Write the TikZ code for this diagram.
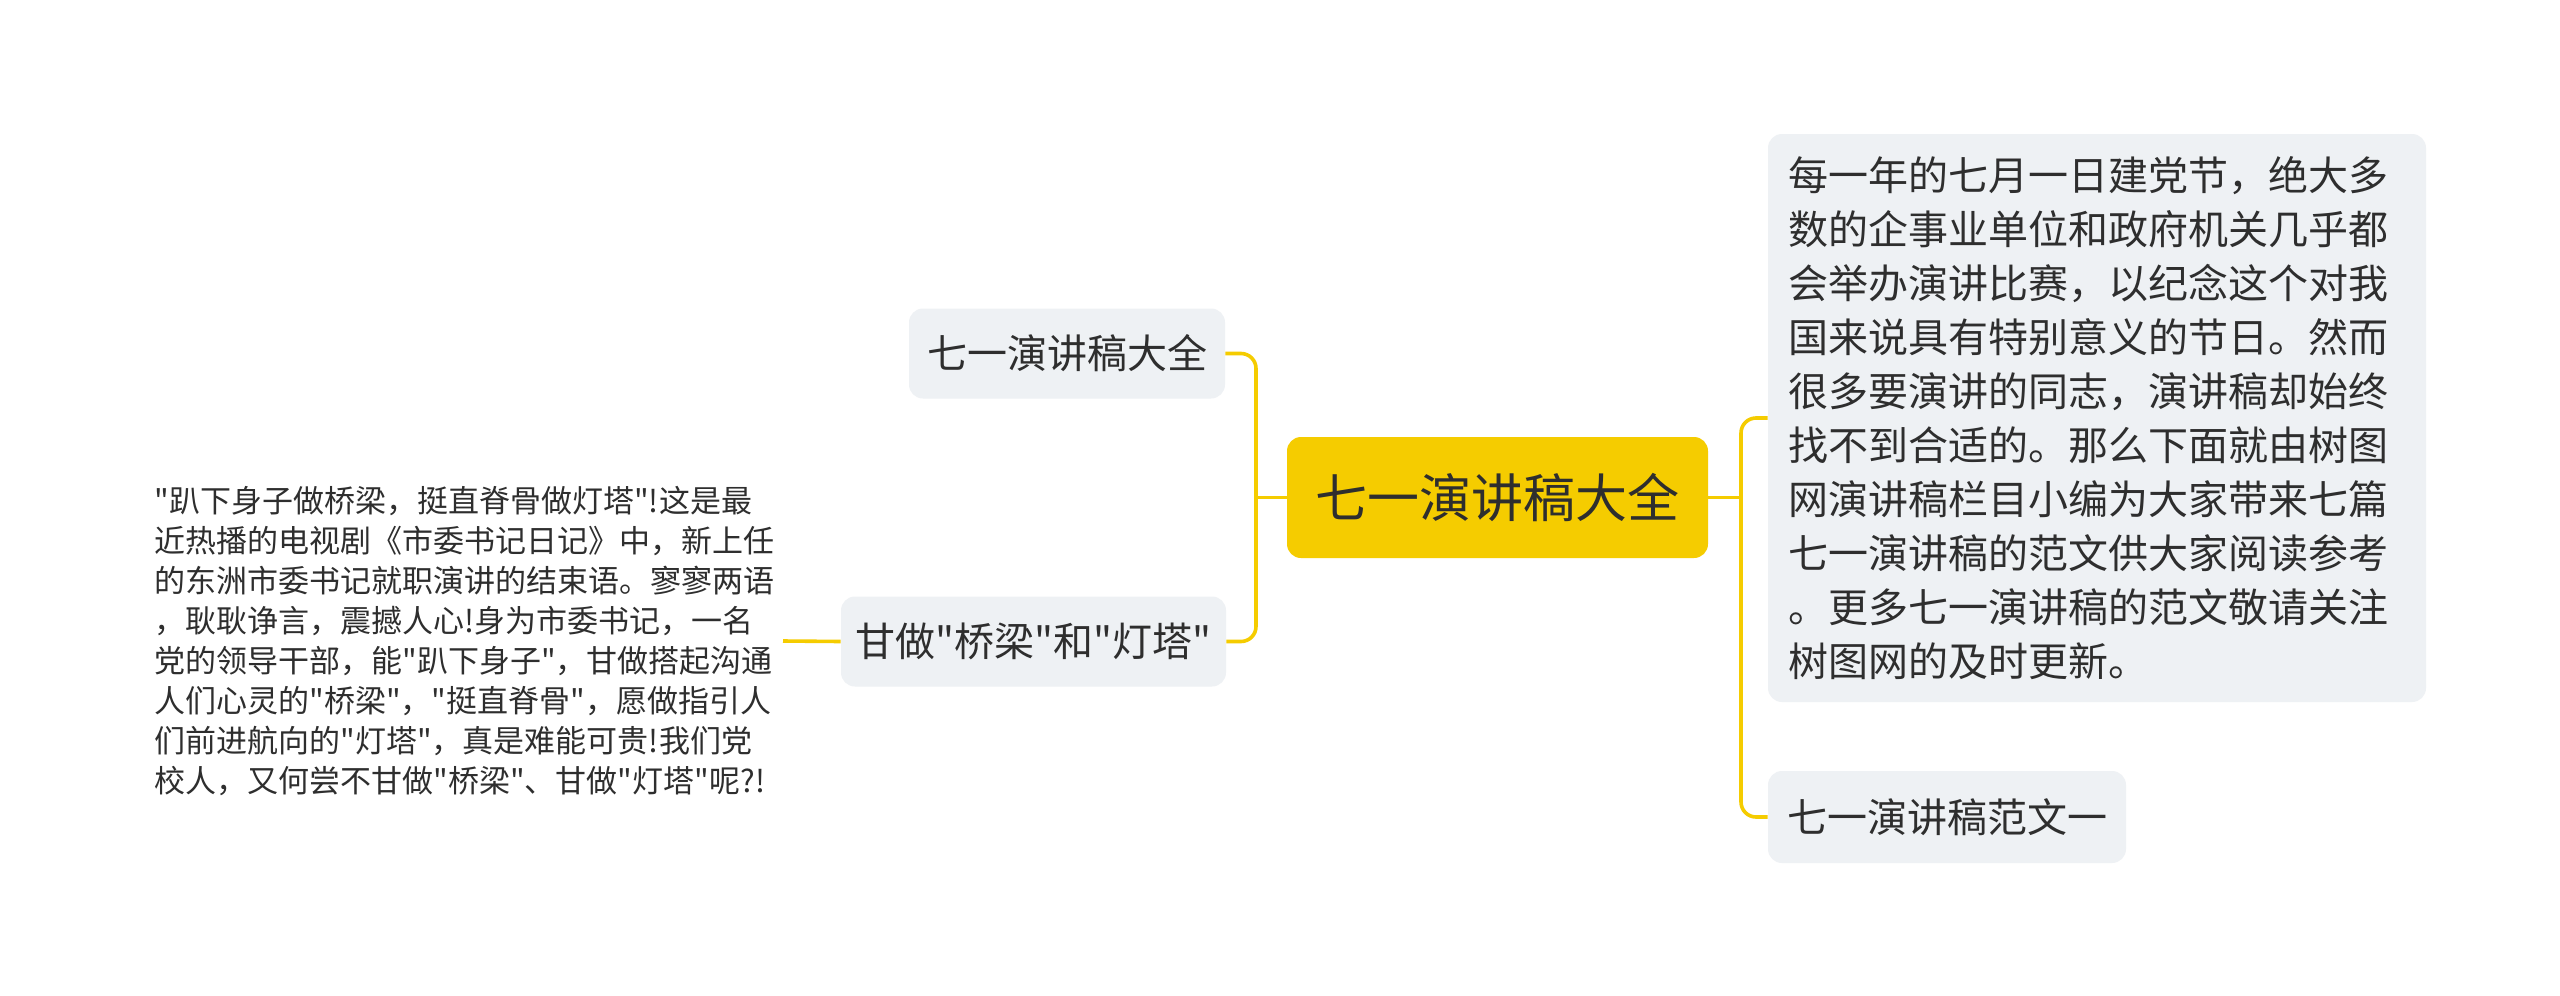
\documentclass[tikz,border=0pt]{standalone}
\usepackage{fontspec}
\setmainfont{Noto Sans CJK SC}[Ligatures=TeXOff]
\definecolor{topicyellow}{HTML}{F5CC00}
\definecolor{boxgrey}{HTML}{EEF1F4}
\definecolor{inkdark}{HTML}{2E2E2E}

\begin{document}
\begin{tikzpicture}[
  x=0.5pt, y=-0.5pt,
  root/.style={rectangle, rounded corners=7pt, fill=topicyellow, text=inkdark,
               font=\fontsize{26pt}{30pt}\selectfont, minimum width=210.5pt, minimum height=60.5pt, inner sep=0pt},
  topic/.style={rectangle, rounded corners=7pt, fill=boxgrey, text=inkdark,
                font=\fontsize{20pt}{27pt}\selectfont, minimum height=45pt, inner sep=0pt},
  leaf/.style={align=left, text=inkdark, font=\fontsize{15.5pt}{20pt}\selectfont, inner sep=4pt},
  link/.style={draw=topicyellow, line width=1.8pt, rounded corners=7.5pt},
]

\fill[white] (0,0) rectangle (2560,996);
\useasboundingbox (0,0) rectangle (2560,996);

% --- central topic ---
\node[root] (root) at (1497.5,497.5) {七一演讲稿大全};

% --- left branch ---
\node[topic, minimum width=158pt] (l1) at (1067,353.5) {七一演讲稿大全};
\node[topic, minimum width=192.5pt] (l2) at (1033.5,641.5) {甘做"桥梁"和"灯塔"};
\node[leaf, anchor=east] (note) at (783,641) {"趴下身子做桥梁，挺直脊骨做灯塔"!这是最\\
  近热播的电视剧《市委书记日记》中，新上任\\
  的东洲市委书记就职演讲的结束语。寥寥两语\\
  ，耿耿诤言，震撼人心!身为市委书记，一名\\
  党的领导干部，能"趴下身子"，甘做搭起沟通\\
  人们心灵的"桥梁"，"挺直脊骨"，愿做指引人\\
  们前进航向的"灯塔"，真是难能可贵!我们党\\
  校人，又何尝不甘做"桥梁"、甘做"灯塔"呢?!};

% --- right branch ---
\node[topic, align=left, text width=309pt, minimum height=284pt, inner xsep=10pt] (intro) at (2097,418) {每一年的七月一日建党节，绝大多\\
  数的企事业单位和政府机关几乎都\\
  会举办演讲比赛，以纪念这个对我\\
  国来说具有特别意义的节日。然而\\
  很多要演讲的同志，演讲稿却始终\\
  找不到合适的。那么下面就由树图\\
  网演讲稿栏目小编为大家带来七篇\\
  七一演讲稿的范文供大家阅读参考\\
  。更多七一演讲稿的范文敬请关注\\
  树图网的及时更新。};
\node[topic, minimum width=179pt, minimum height=46pt] (r2) at (1947,817) {七一演讲稿范文一};

% --- connectors ---
\coordinate (lbus) at (1256,497.5);
\coordinate (rbus) at (1741,497.5);
\draw[link] (root.west) -- (lbus);
\draw[link] (l1.east) -| (lbus) |- (l2.east);
\draw[link] (l2.west) -- (note.east);
\draw[link] (root.east) -- (rbus);
\draw[link] (intro.west) -| (rbus) |- (r2.west);

\end{tikzpicture}
\end{document}
